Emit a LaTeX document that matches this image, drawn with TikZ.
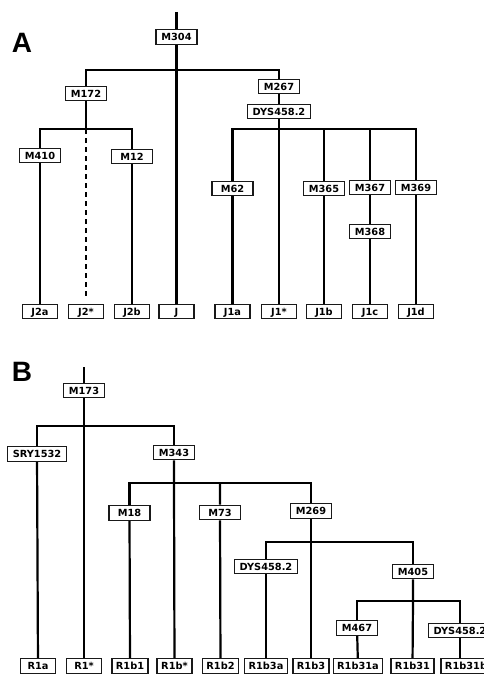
\documentclass[tikz,border=0pt]{standalone}
\usepackage{fontspec}
\setmainfont{DejaVu Sans}
\newfontfamily\labfont{Liberation Sans}
\usetikzlibrary{backgrounds}
\begin{document}
\begin{tikzpicture}[x=1pt,y=-1pt,
  mk/.style={draw=black!90, line width=1.3pt, fill=white,
    font=\bfseries\fontsize{9.8}{10}\selectfont,
    inner xsep=5.5pt, inner ysep=0pt, text height=7.2pt, text depth=0pt,
    minimum height=14.5pt, minimum width=41pt},
  leaf/.style={mk, inner xsep=4pt, minimum width=35pt},
  br/.style={line width=2.2pt, draw=black},
  panel/.style={font=\labfont\bfseries\fontsize{28}{28}\selectfont, inner sep=0pt}]
\useasboundingbox (0,0) rectangle (484,674);
\clip (0,0) rectangle (484,674);
% ---------- Panel A ----------
\node[panel] (labA) at (22,43) {A};
\coordinate (topA) at (176.5,12);
\node[mk] (M304) at (176.5,37) {M304};
\coordinate (jA) at (176.5,70);
\node[mk] (M172) at (86,93.5) {M172};
\node[mk] (M267) at (279,86.5) {M267};
\node[mk] (D1) at (279,111.5) {DYS458.2};
\coordinate (j172) at (86,129);
\node[mk] (M410) at (40,155.5) {M410};
\node[mk] (M12) at (132,156.5) {M12};
\coordinate (j267) at (279,129);
\node[mk] (M62) at (232.5,188.5) {M62};
\node[mk] (M365) at (324,188.5) {M365};
\node[mk] (M367) at (370,187.5) {M367};
\node[mk] (M369) at (416,187.5) {M369};
\node[mk] (M368) at (370,231.5) {M368};
\coordinate (dashend) at (86,298);
\node[leaf] (J2a) at (40,311.5) {J2a};
\node[leaf] (J2s) at (86,311.5) {J2*};
\node[leaf] (J2b) at (132,311.5) {J2b};
\node[leaf] (J) at (176.5,311.5) {J};
\node[leaf] (J1a) at (232.5,311.5) {J1a};
\node[leaf] (J1s) at (279,311.5) {J1*};
\node[leaf] (J1b) at (324,311.5) {J1b};
\node[leaf] (J1c) at (370,311.5) {J1c};
\node[leaf] (J1d) at (416,311.5) {J1d};
% ---------- Panel B ----------
\node[panel] (labB) at (22,372) {B};
\coordinate (topB) at (84,367);
\node[mk] (M173) at (84,390.5) {M173};
\coordinate (jB) at (84,426);
\node[mk] (SRY) at (37,454) {SRY1532};
\node[mk] (M343) at (174,452.5) {M343};
\coordinate (j343) at (174,483);
\node[mk] (M18) at (129.5,513) {M18};
\node[mk] (M73) at (220,512.5) {M73};
\node[mk] (M269) at (311,511) {M269};
\coordinate (j269) at (311,542);
\node[mk] (D2) at (266,566.5) {DYS458.2};
\node[mk] (M405) at (413,571.5) {M405};
\coordinate (j405) at (413,601);
\node[mk] (M467) at (357,628) {M467};
\node[mk] (D3) at (460,630.5) {DYS458.2};
\node[leaf] (R1a) at (38,666) {R1a};
\node[leaf] (R1s) at (84,666) {R1*};
\node[leaf] (R1b1) at (130,666) {R1b1};
\node[leaf] (R1bs) at (174.5,666) {R1b*};
\node[leaf] (R1b2) at (220.5,666) {R1b2};
\node[leaf] (R1b3a) at (266,666) {R1b3a};
\node[leaf] (R1b3) at (311,666) {R1b3};
\node[leaf] (R1b31a) at (358,666) {R1b31a};
\node[leaf] (R1b31) at (412.5,666) {R1b31};
\node[leaf] (R1b31b) at (466,666) {R1b31b};
% ---------- connectors ----------
\begin{scope}[on background layer]
  % A
  \draw[br] (topA) -- (M304) -- (jA) -- (J);
  \draw[br] (M172) |- (jA) -| (M267);
  \draw[br] (M267) -- (D1) -- (j267) -- (J1s);
  \draw[br] (M172) -- (j172);
  \draw[br] (M410) |- (j172) -| (M12);
  \draw[br] (M410) -- (J2a);
  \draw[br] (M12) -- (J2b);
  \draw[line width=1.5pt, dash pattern=on 5pt off 4pt] (j172) -- (dashend);
  \draw[br] (M62) |- (j267) -| (M369);
  \draw[br] (M62) -- (J1a);
  \draw[br] (M369) -- (J1d);
  \draw[br] (M365 |- j267) -- (M365) -- (J1b);
  \draw[br] (M367 |- j267) -- (M367) -- (M368) -- (J1c);
  % B
  \draw[br] (topB) -- (M173) -- (jB) -- (R1s);
  \draw[br] (SRY) |- (jB) -| (M343);
  \draw[br] (SRY) -- (R1a);
  \draw[br] (M343) -- (j343) -- (R1bs);
  \draw[br] (M18) |- (j343) -| (M269);
  \draw[br] (M18) -- (R1b1);
  \draw[br] (M73 |- j343) -- (M73) -- (R1b2);
  \draw[br] (M269) -- (j269) -- (R1b3);
  \draw[br] (D2) |- (j269) -| (M405);
  \draw[br] (D2) -- (R1b3a);
  \draw[br] (M405) -- (j405) -- (R1b31);
  \draw[br] (M467) |- (j405) -| (D3);
  \draw[br] (M467) -- (R1b31a);
  \draw[br] (D3) -- (D3 |- R1b31b.north);
\end{scope}
\end{tikzpicture}
\end{document}
